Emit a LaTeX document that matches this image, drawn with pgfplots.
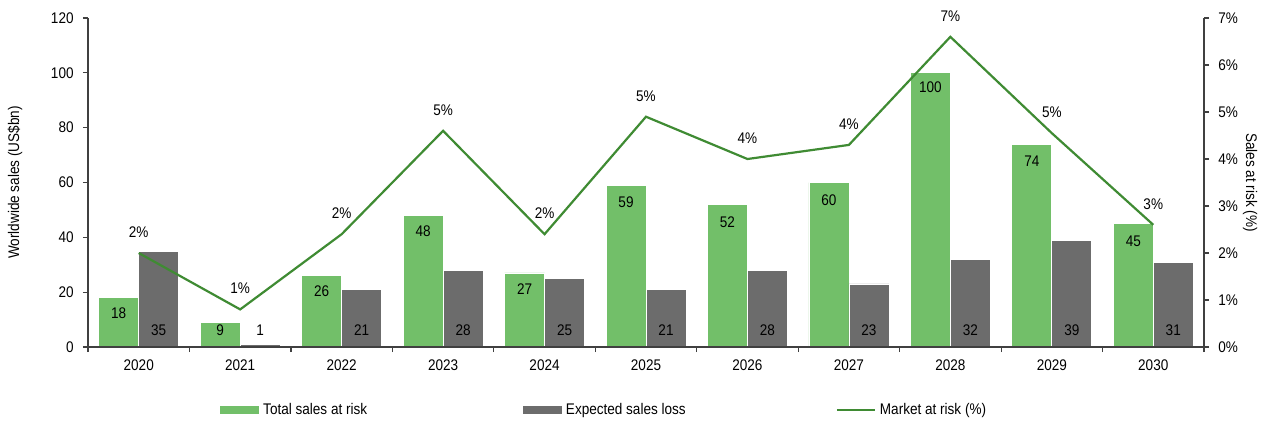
\documentclass[border=0pt]{standalone}
\usepackage{pgfplots}
\usepackage{pgfplotstable}
\pgfplotsset{compat=1.18}
\usepackage{fontspec}
\setmainfont{Liberation Sans}[FakeStretch=0.88]
\definecolor{barGreen}{HTML}{72BF69}
\definecolor{barGray}{HTML}{6C6C6C}
\definecolor{lineGreen}{HTML}{3F8B33}
\definecolor{axisGray}{HTML}{404040}
\newcommand{\chartfont}{\fontsize{7.7}{9}\selectfont}

\pgfplotstableread{
x total loss pct lab tlab
0 18 35 2.0 2 12.2
1 9 1 0.8 1 6.2
2 26 21 2.4 2 20.2
3 48 28 4.6 5 42.2
4 27 25 2.4 2 21.2
5 59 21 4.9 5 52.6
6 52 28 4.0 4 45.6
7 60 23 4.3 4 53.6
8 100 32 6.6 7 94.6
9 74 39 4.55 5 67.6
10 45 31 2.6 3 38.6
}\data

\begin{document}
\begin{tikzpicture}
\path[use as bounding box] (-44pt,-38.5pt) rectangle (590pt,173.5pt);
\begin{axis}[
  scale only axis, width=558pt, height=164.5pt,
  xmin=-0.5, xmax=10.5, ymin=0, ymax=120,
  axis on top,
  axis y line*=left, axis x line*=bottom,
  axis line style={-, axisGray, line width=0.6pt},
  tick style={axisGray, line width=0.6pt},
  tick align=outside,
  ytick={0,20,...,120},
  major tick length=2.5pt, minor tick length=2.5pt,
  xtick={0,...,10},
  xticklabels={2020,2021,2022,2023,2024,2025,2026,2027,2028,2029,2030},
  major x tick style={draw=none},
  minor x tick style={axisGray, line width=0.6pt},
  minor xtick={-0.5,0.5,...,10.5},
  /pgf/number format/assume math mode=true,
  tick label style={font=\chartfont},
  yticklabel style={inner sep=0pt, xshift=-4.5pt},
  xticklabel style={inner sep=0pt, yshift=-3.5pt},
  ylabel={Worldwide sales (US\$bn)},
  ylabel style={font=\chartfont, at={(axis description cs:-0.0654,0.5)}, anchor=center, rotate=0},
  clip=false,
]
\addplot[ybar, bar width=20pt, bar shift=-10pt, fill=barGreen, draw=white, line width=0.4pt] table[x=x, y=total] {\data};
\addplot[ybar, bar width=20pt, bar shift=10pt, fill=barGray, draw=white, line width=0.4pt] table[x=x, y=loss] {\data};
% labels for green bars
\addplot[draw=none, mark=none, nodes near coords, point meta=explicit symbolic,
  every node near coord/.append style={font=\chartfont, inner sep=1pt, xshift=-10pt, yshift=-3.8pt}]
  table[x=x, y=tlab, meta=total] {\data};
% labels for gray bars
\addplot[draw=none, mark=none, nodes near coords, point meta=explicit symbolic,
  every node near coord/.append style={font=\chartfont, inner sep=1pt, xshift=10pt, yshift=4.7pt}]
  table[x=x, y expr=0, meta=loss] {\data};
\end{axis}
\begin{axis}[
  scale only axis, width=558pt, height=164.5pt,
  xmin=-0.5, xmax=10.5, ymin=0, ymax=7,
  axis y line*=right, axis x line=none,
  axis line style={-, axisGray, line width=0.6pt},
  tick style={axisGray, line width=0.6pt},
  tick align=outside, major tick length=2.5pt,
  ytick={0,...,7},
  /pgf/number format/assume math mode=true,
  yticklabel={\pgfmathprintnumber{\tick}\%},
  tick label style={font=\chartfont},
  yticklabel style={inner sep=0pt, xshift=4.5pt},
  ylabel={Sales at risk (\%)},
  ylabel style={font=\chartfont, at={(axis description cs:1.0412,0.5)}, anchor=center, rotate=180},
  clip=false,
  legend columns=3,
  legend style={at={(axis description cs:0.1183,-0.1915)}, anchor=west, draw=none, fill=none,
    font=\chartfont, inner sep=0pt,
    /tikz/column 2/.style={column sep=76pt},
    /tikz/column 4/.style={column sep=73pt}},
  legend cell align=left,
]
\addlegendimage{legend image code/.code={\fill[barGreen] (0pt,-1.75pt) rectangle (19pt,1.75pt);}}
\addlegendentry{Total sales at risk}
\addlegendimage{legend image code/.code={\fill[barGray] (0pt,-1.75pt) rectangle (19pt,1.75pt);}}
\addlegendentry{Expected sales loss}
\addplot[lineGreen, line width=1.1pt, mark=none, nodes near coords={\pgfplotspointmeta\%}, point meta=explicit symbolic,
  legend image code/.code={\draw[lineGreen, line width=1.1pt] (0pt,0pt) -- (19pt,0pt);},
  every node near coord/.append style={font=\chartfont, inner sep=1pt, text=black, yshift=6.2pt}]
  table[x=x, y=pct, meta=lab] {\data};
\addlegendentry{Market at risk (\%)}
\end{axis}
\end{tikzpicture}
\end{document}
